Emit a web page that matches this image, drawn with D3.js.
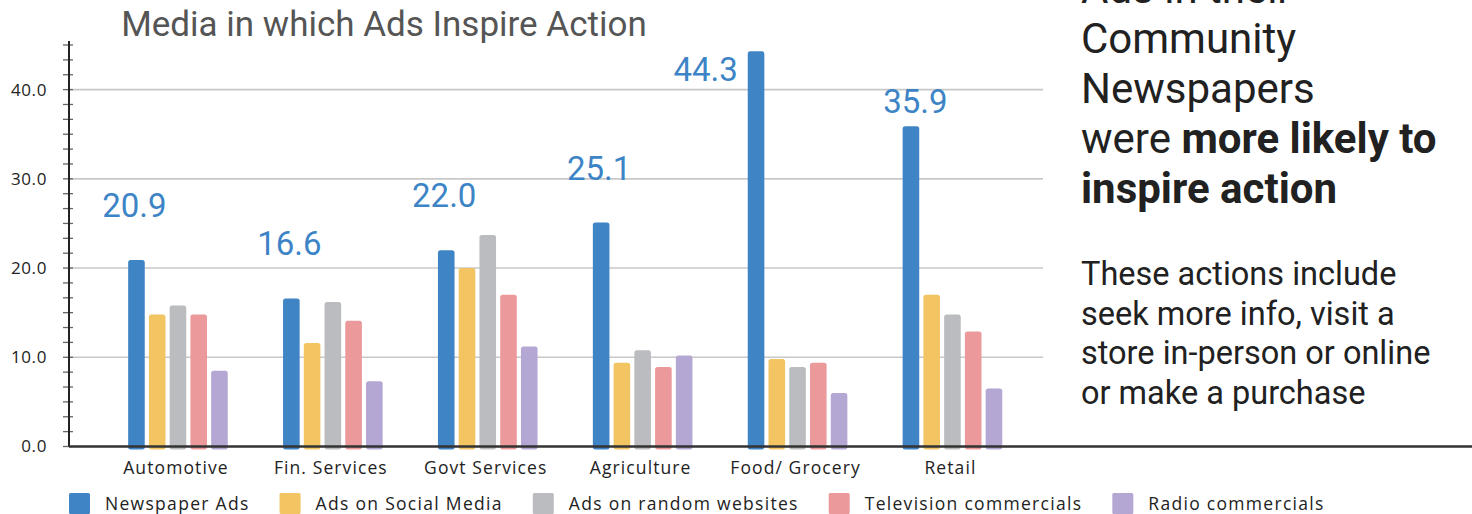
<!DOCTYPE html>
<html>
<head>
<meta charset="utf-8">
<script src="https://cdn.jsdelivr.net/npm/d3@7"></script>
<style>
  html, body { margin: 0; padding: 0; background: #fff; }
  svg { display: block; }
</style>
</head>
<body>
<svg id="chart" width="1472" height="514"></svg>
<script>
// ---------- DATA ----------
const categories = ["Automotive", "Fin. Services", "Govt Services", "Agriculture", "Food/ Grocery", "Retail"];
const seriesNames = ["Newspaper Ads", "Ads on Social Media", "Ads on random websites", "Television commercials", "Radio commercials"];
const newspaperAds = [20.9, 16.6, 22.0, 25.1, 44.3, 35.9];
const socialMediaAds = [14.8, 11.6, 20.0, 9.4, 9.8, 17.0];
const randomWebsiteAds = [15.8, 16.2, 23.7, 10.8, 8.9, 14.8];
const televisionAds = [14.8, 14.1, 17.0, 8.9, 9.4, 12.9];
const radioAds = [8.5, 7.3, 11.2, 10.2, 6.0, 6.5];
const yTickValues = [0, 10, 20, 30, 40];
const seriesColors = ["#3f84c5", "#f2c462", "#bbbcc0", "#eb999b", "#b4a7d3"];
const titleText = "Media in which Ads Inspire Action";
const headlineLines = [
  [["Ads in their", false]],
  [["Community", false]],
  [["Newspapers", false]],
  [["were ", false], ["more likely to", true]],
  [["inspire action", true]]
];
const bodyLines = ["These actions include", "seek more info, visit a", "store in-person or online", "or make a purchase"];

const seriesValues = [newspaperAds, socialMediaAds, randomWebsiteAds, televisionAds, radioAds];

// ---------- CHART ----------
const svg = d3.select("#chart");
const axisX = 69;
const gridRight = 1043;

const y = d3.scaleLinear().domain([0, 45]).range([446.5, 45]);
const x0 = d3.scaleBand().domain(categories).range([100.5, 1029.9]).padding(0);
const x1 = d3.scaleBand().domain(seriesNames).range([-49.8, 49.8]).paddingInner(0.2).paddingOuter(0);
const color = d3.scaleOrdinal().domain(seriesNames).range(seriesColors);
const groupCenter = c => x0(c) + x0.bandwidth() / 2;

// title
svg.append("text")
  .attr("x", 384).attr("y", 36)
  .attr("text-anchor", "middle")
  .attr("font-family", "Roboto")
  .attr("font-size", 35)
  .attr("fill", "#555")
  .text(titleText);

// gridlines
svg.append("g").selectAll("line")
  .data(yTickValues.filter(v => v > 0))
  .join("line")
  .attr("x1", axisX).attr("x2", gridRight)
  .attr("y1", d => y(d)).attr("y2", d => y(d))
  .attr("stroke", "#c8c8c8").attr("stroke-width", 1.6);

// y tick labels via axis
const yAxis = svg.append("g")
  .attr("transform", `translate(${axisX},0)`)
  .call(d3.axisLeft(y).tickValues(yTickValues).tickFormat(d3.format(".1f")).tickSize(0).tickPadding(22));
yAxis.select(".domain").remove();
yAxis.selectAll("text")
  .attr("font-family", "Open Sans")
  .attr("font-size", 17)
  .attr("letter-spacing", 0.6)
  .attr("fill", "#222");

// minor ticks crossing the axis
const minorTicks = d3.range(0, 28).map(i => i * 10 / 6);
svg.append("g").selectAll("line")
  .data(minorTicks)
  .join("line")
  .attr("x1", axisX - 6).attr("x2", axisX + 4)
  .attr("y1", d => y(d)).attr("y2", d => y(d))
  .attr("stroke", "#666").attr("stroke-width", 1.3);

// axis line
svg.append("line")
  .attr("x1", axisX).attr("x2", axisX)
  .attr("y1", y(0)).attr("y2", y(45) - 4)
  .attr("stroke", "#222").attr("stroke-width", 2);

// bars
const groups = svg.append("g").selectAll("g")
  .data(categories)
  .join("g")
  .attr("transform", c => `translate(${groupCenter(c)},0)`);

groups.selectAll("rect")
  .data((c, ci) => seriesNames.map((s, si) => ({ s, v: seriesValues[si][ci] })))
  .join("rect")
  .attr("x", d => x1(d.s))
  .attr("width", x1.bandwidth())
  .attr("y", d => y(d.v))
  .attr("height", d => y(0) - y(d.v) + 3)
  .attr("rx", 2.5)
  .attr("fill", d => color(d.s));

// baseline (extends to right edge)
svg.append("line")
  .attr("x1", axisX).attr("x2", 1472)
  .attr("y1", y(0)).attr("y2", y(0))
  .attr("stroke", "#333").attr("stroke-width", 2.5);

// value labels for newspaper series
const labelPlacement = {
  "Food/ Grocery": { anchor: "end", dx: -10, dy: 30 },
  "Retail": { anchor: "middle", dx: 4.5, dy: -13 }
};
svg.append("g").selectAll("text")
  .data(categories)
  .join("text")
  .each(function (c, i) {
    const p = labelPlacement[c] || { anchor: "middle", dx: -2, dy: -43 };
    const bx = groupCenter(c) + x1(seriesNames[0]);
    const baseX = p.anchor === "end" ? bx : bx + x1.bandwidth() / 2;
    d3.select(this)
      .attr("x", baseX + p.dx)
      .attr("y", y(newspaperAds[i]) + p.dy)
      .attr("text-anchor", p.anchor);
  })
  .attr("font-family", "Roboto")
  .attr("font-size", 33)
  .attr("fill", "#3d84c6")
  .text((c, i) => d3.format(".1f")(newspaperAds[i]));

// category labels
svg.append("g").selectAll("text")
  .data(categories)
  .join("text")
  .attr("x", c => groupCenter(c) - 2)
  .attr("y", 473.5)
  .attr("text-anchor", "middle")
  .attr("font-family", "Open Sans")
  .attr("font-size", 17.5)
  .attr("letter-spacing", 1.1)
  .attr("fill", "#222")
  .text(c => c);

// legend
const legend = svg.append("g");
let lx = 69;
seriesNames.forEach(s => {
  legend.append("rect")
    .attr("x", lx).attr("y", 493)
    .attr("width", 21).attr("height", 21)
    .attr("rx", 1.5)
    .attr("fill", color(s));
  const t = legend.append("text")
    .attr("x", lx + 36).attr("y", 509.5)
    .attr("font-family", "Open Sans")
    .attr("font-size", 17.5)
    .attr("letter-spacing", 1.3)
    .attr("fill", "#222")
    .text(s);
  lx = lx + 36 + t.node().getComputedTextLength() + 30;
});

// right-hand text
const headline = svg.append("text")
  .attr("font-family", "Roboto")
  .attr("font-size", 42)
  .attr("fill", "#212121");
headlineLines.forEach((parts, li) => {
  parts.forEach((pt, pi) => {
    const ts = headline.append("tspan")
      .attr("font-weight", pt[1] ? 700 : 400)
      .text(pt[0]);
    if (pi === 0) ts.attr("x", 1081).attr("y", 2.7 + li * 50);
  });
});

const body = svg.append("text")
  .attr("font-family", "Roboto")
  .attr("font-size", 32.5)
  .attr("fill", "#212121");
bodyLines.forEach((l, li) => {
  body.append("tspan").attr("x", 1081).attr("y", 285 + li * 39.7).text(l);
});
</script>
</body>
</html>
